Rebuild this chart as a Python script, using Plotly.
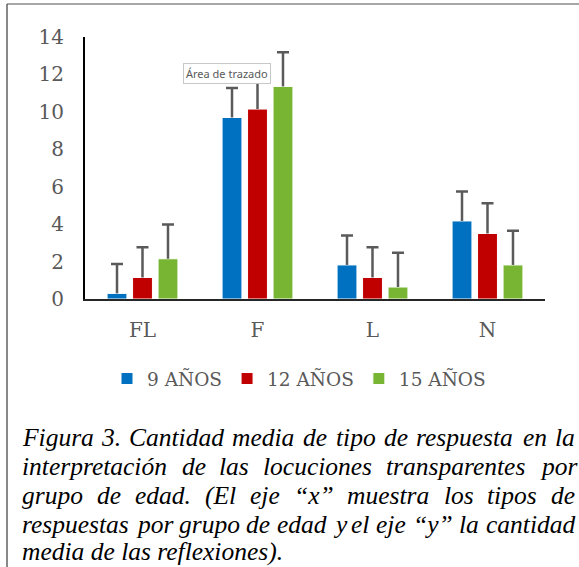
import plotly.graph_objects as go

categories = ["FL", "F", "L", "N"]
series_names = ["9 AÑOS", "12 AÑOS", "15 AÑOS"]
nueve = [0.3, 9.7, 1.82, 4.17]
doce = [1.15, 10.15, 1.15, 3.5]
quince = [2.15, 11.36, 0.64, 1.82]
err_nueve = [1.57, 1.57, 1.57, 1.57]
err_doce = [1.62, 1.62, 1.62, 1.62]
err_quince = [1.83, 1.83, 1.83, 1.83]
colors = ["#0070C0", "#C00000", "#77B532"]
y_ticks = [0, 2, 4, 6, 8, 10, 12, 14]

caption_lines = [
    "Figura 3. Cantidad media de tipo de respuesta en la",
    "interpretación de las locuciones transparentes por",
    "grupo de edad. (El eje “x” muestra los tipos de",
    "respuestas por grupo de edad y el eje “y” la cantidad",
    "media de las reflexiones).",
]

W, H = 579, 567
L, R, T, B = 85, 545, 37, 299  # plot area in pixels

def px_x(px):
    return (px - L) / (R - L)

def px_y(py):
    return (B - py) / (B - T)

fig = go.Figure()
err_color = "#5a5a5a"
for k, (name, vals, errs, col) in enumerate(zip(series_names, [nueve, doce, quince],
                                                [err_nueve, err_doce, err_quince], colors)):
    fig.add_trace(go.Bar(
        x=categories, y=vals, name=name, offsetgroup=str(k),
        marker=dict(color=col, line=dict(color="white", width=1)),
        error_y=dict(type="data", array=errs, arrayminus=[0] * len(errs),
                     symmetric=False, color=err_color, thickness=2.5, width=0),
    ))
# caps only at the top end of each error bar (transparent helper bars)
for k, (vals, errs) in enumerate(zip([nueve, doce, quince], [err_nueve, err_doce, err_quince])):
    tops = [v + e for v, e in zip(vals, errs)]
    fig.add_trace(go.Bar(
        x=categories, y=tops, offsetgroup=str(k), showlegend=False,
        marker=dict(color="rgba(0,0,0,0)", line=dict(width=0)),
        error_y=dict(type="data", array=[0] * len(tops), symmetric=True,
                     color=err_color, thickness=2.5, width=6),
    ))

# Caption (justified, Times-like italic)
tw = {' ': 250, '.': 250, ',': 250, '(': 333, ')': 333, '“': 556, '”': 556, '3': 500,
      'C': 667, 'E': 611, 'F': 611,
      'a': 500, 'b': 500, 'c': 444, 'd': 500, 'e': 444, 'f': 278, 'g': 500, 'h': 500,
      'i': 278, 'j': 278, 'k': 444, 'l': 278, 'm': 722, 'n': 500, 'o': 500, 'p': 500,
      'q': 500, 'r': 389, 's': 389, 't': 278, 'u': 500, 'v': 444, 'w': 667, 'x': 444,
      'y': 444, 'z': 389, 'ó': 500, 'á': 500}
fs = 25.5

def wwidth(w):
    return sum(tw.get(c, 500) for c in w) * fs / 1000.0

left_px, right_px = 22, 575
baselines = [446, 475.5, 504.5, 533, 560]
cap_font = dict(family="Liberation Serif, Times New Roman, serif", size=fs, color="black")
for i, line in enumerate(caption_lines):
    cy = baselines[i] - 0.34 * fs
    if i < len(caption_lines) - 1:
        words = line.split(" ")
        widths = [wwidth(w) for w in words]
        gap = (right_px - left_px - sum(widths)) / (len(words) - 1)
        x = left_px
        for w, wd in zip(words, widths):
            fig.add_annotation(text="<i>" + w + "</i>", x=px_x(x), y=px_y(cy),
                               xref="paper", yref="paper", xanchor="left", yanchor="middle",
                               showarrow=False, font=cap_font, borderpad=0, borderwidth=0)
            x += wd + gap
    else:
        fig.add_annotation(text="<i>" + line + "</i>", x=px_x(left_px), y=px_y(cy),
                           xref="paper", yref="paper", xanchor="left", yanchor="middle",
                           showarrow=False, font=cap_font, borderpad=0, borderwidth=0)

# Tooltip-like label
fig.add_annotation(text="Área de trazado", x=px_x(226.5), y=px_y(73.5), xref="paper", yref="paper",
                   xanchor="center", yanchor="middle",
                   showarrow=False, font=dict(family="Noto Sans, Open Sans, sans-serif", size=11, color="#595959"),
                   bgcolor="white", bordercolor="#c8c8c8", borderwidth=1, borderpad=2)

# Page frame (top and left)
fig.add_shape(type="line", xref="paper", yref="paper", x0=px_x(7), x1=px_x(580), y0=px_y(4), y1=px_y(4),
              line=dict(color="#a6a6a6", width=2))
fig.add_shape(type="line", xref="paper", yref="paper", x0=px_x(7), x1=px_x(7), y0=px_y(4), y1=px_y(570),
              line=dict(color="#606060", width=1.5))

axis_font = dict(family="DejaVu Serif, serif", size=20, color="#595959")
legend_font = dict(family="DejaVu Serif, serif", size=18.5, color="#595959")
fig.update_layout(
    width=W, height=H,
    margin=dict(l=L, r=W - R, t=T, b=H - B),
    paper_bgcolor="white", plot_bgcolor="white",
    barmode="group", bargap=0.335, bargroupgap=0.22,
    showlegend=True,
    legend=dict(orientation="h", x=px_x(299), y=px_y(379), xanchor="center", yanchor="middle",
                font=legend_font, traceorder="normal", itemwidth=30),
    xaxis=dict(showline=True, linecolor="#262626", linewidth=2, ticks="", tickfont=axis_font,
               showgrid=False, zeroline=False, ticklabelstandoff=12),
    yaxis=dict(range=[0, 14], tickvals=y_ticks, showline=True, linecolor="#000000", linewidth=2,
               ticks="", tickfont=axis_font, showgrid=False, zeroline=False, ticklabelstandoff=15),
    hovermode=False,
)
fig.write_html("out.html", config={"displayModeBar": False},
               post_script="document.body.style.margin='0';document.body.style.padding='0';"
                           "document.documentElement.style.overflow='hidden';")
